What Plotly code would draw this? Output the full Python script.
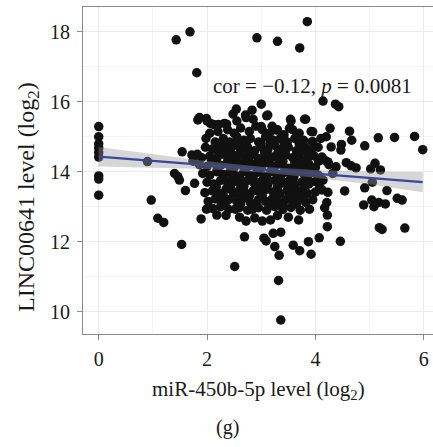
import plotly.graph_objects as go

# ---- data ----
# isolated / outer points: (miR-450b-5p, LINC00641)
col0_x = [0, 0, 0, 0, 0, 0, 0, 0, 0]
col0_y = [15.29, 15.0, 14.8, 14.68, 14.55, 14.42, 13.88, 13.79, 13.33]

left_pts = [(0.90, 14.29), (0.97, 13.19), (1.09, 12.67), (1.2, 12.55), (1.53, 11.92),
            (1.40, 13.95), (1.46, 13.86), (1.49, 13.76), (1.6, 13.46), (1.77, 13.67),
            (1.54, 14.57), (1.72, 14.48), (1.82, 14.5), (1.74, 14.3), (1.89, 12.65)]

top_pts = [(3.85, 18.29), (1.685, 18.0), (1.43, 17.77), (2.92, 17.83), (3.30, 17.73),
           (3.71, 17.54), (1.81, 16.83), (4.14, 16.02), (4.37, 15.93), (4.43, 15.86),
           (3.0, 15.93), (2.54, 15.79), (2.83, 15.76), (2.71, 15.62), (3.12, 15.62),
           (1.83, 15.48), (1.99, 15.52), (2.06, 15.38), (2.21, 15.35), (2.36, 15.36),
           (3.0, 15.29), (3.28, 15.19), (3.4, 15.05), (3.52, 15.24), (3.54, 15.5),
           (3.82, 15.5), (3.95, 15.14), (3.94, 14.86)]

bottom_pts = [(2.51, 11.29), (3.32, 10.89), (3.36, 9.76), (2.69, 12.14), (3.05, 12.1),
              (3.09, 12.02), (3.22, 12.24), (3.36, 12.27), (3.33, 11.61), (3.25, 11.86),
              (3.59, 11.9), (3.71, 11.74), (3.87, 12.0), (3.92, 11.64), (4.07, 12.11),
              (4.46, 12.01), (4.22, 12.43), (4.22, 12.76), (3.02, 12.59), (3.17, 12.62),
              (2.72, 12.59), (3.69, 12.62), (2.18, 12.76), (1.99, 12.93), (2.52, 12.93),
              (2.84, 12.93), (3.89, 12.93)]

right_pts = [(5.98, 14.63), (5.83, 15.01), (5.46, 14.98), (5.16, 14.97), (4.91, 14.74),
             (4.63, 15.16), (4.67, 14.9), (4.27, 15.24), (4.48, 14.78), (4.47, 14.62),
             (5.10, 14.24), (5.02, 14.08), (5.2, 14.05), (4.57, 14.26), (4.66, 14.17),
             (4.75, 14.11), (4.38, 14.14), (4.91, 13.54), (5.05, 13.7), (5.32, 13.46),
             (4.54, 13.45), (4.89, 13.05), (5.04, 13.19), (5.08, 13.0), (5.17, 13.12),
             (5.29, 13.08), (5.51, 13.24), (5.6, 13.19), (5.18, 12.4), (5.23, 12.35),
             (5.65, 12.39), (4.23, 13.41), (4.21, 13.12), (4.17, 12.97), (4.14, 13.76),
             (4.32, 13.95), (4.17, 14.33), (4.23, 14.28), (4.29, 14.71), (4.2, 15.0)]

# dense central cloud
cloud_pts = [
    (1.86, 15.55), (2.0, 15.45), (2.12, 15.35), (2.32, 15.38), (2.48, 15.65), (2.55, 15.45),
    (2.72, 15.55), (2.85, 15.5), (3.1, 15.6), (3.2, 15.3), (3.55, 15.45), (3.8, 15.5),
    (2.05, 15.1), (2.2, 15.15), (2.38, 15.2), (2.5, 15.1), (2.62, 15.25), (2.78, 15.15),
    (2.9, 15.3), (3.02, 15.2), (3.15, 15.1), (3.3, 15.2), (3.42, 15.05), (3.58, 15.2),
    (3.7, 15.1), (3.92, 15.15),
    (1.98, 14.95), (2.15, 14.85), (2.3, 14.95), (2.42, 14.85), (2.55, 15.0), (2.68, 14.9),
    (2.8, 14.95), (2.95, 14.85), (3.08, 15.0), (3.22, 14.9), (3.35, 14.95), (3.48, 14.85),
    (3.62, 14.95), (3.78, 14.9), (3.95, 14.85), (4.1, 14.95),
    (1.97, 14.7), (2.1, 14.65), (2.25, 14.72), (2.38, 14.62), (2.5, 14.75), (2.62, 14.65),
    (2.75, 14.7), (2.88, 14.6), (3.0, 14.72), (3.12, 14.62), (3.25, 14.75), (3.38, 14.65),
    (3.5, 14.7), (3.65, 14.6), (3.8, 14.72), (3.92, 14.62), (4.05, 14.7),
    (1.9, 14.4), (2.05, 14.45), (2.18, 14.38), (2.3, 14.5), (2.45, 14.42), (2.58, 14.5),
    (2.7, 14.4), (2.82, 14.48), (2.95, 14.38), (3.08, 14.5), (3.2, 14.42), (3.32, 14.35),
    (3.45, 14.48), (3.58, 14.4), (3.7, 14.5), (3.85, 14.38), (3.98, 14.45), (4.12, 14.42),
    (1.86, 14.2), (2.0, 14.15), (2.12, 14.25), (2.25, 14.18), (2.38, 14.22), (2.5, 14.12),
    (2.62, 14.25), (2.75, 14.15), (2.88, 14.22), (3.0, 14.12), (3.12, 14.25), (3.25, 14.15),
    (3.38, 14.2), (3.5, 14.1), (3.62, 14.25), (3.75, 14.15), (3.88, 14.22), (4.0, 14.12),
    (4.25, 14.2),
    (1.92, 13.95), (2.05, 13.9), (2.18, 14.0), (2.3, 13.92), (2.42, 13.98), (2.55, 13.88),
    (2.68, 14.0), (2.8, 13.9), (2.92, 13.98), (3.05, 13.88), (3.18, 14.0), (3.3, 13.92),
    (3.42, 13.98), (3.55, 13.88), (3.68, 14.0), (3.8, 13.9), (3.93, 13.98), (4.05, 13.9),
    (2.0, 13.7), (2.12, 13.65), (2.25, 13.75), (2.38, 13.68), (2.5, 13.72), (2.62, 13.62),
    (2.75, 13.75), (2.88, 13.65), (3.0, 13.72), (3.12, 13.62), (3.25, 13.75), (3.38, 13.68),
    (3.5, 13.72), (3.62, 13.62), (3.75, 13.7), (3.88, 13.65), (4.0, 13.72),
    (1.96, 13.4), (2.1, 13.45), (2.22, 13.38), (2.35, 13.5), (2.48, 13.4), (2.6, 13.48),
    (2.72, 13.38), (2.85, 13.45), (2.98, 13.4), (3.1, 13.5), (3.22, 13.42), (3.35, 13.38),
    (3.48, 13.48), (3.6, 13.4), (3.72, 13.45), (3.85, 13.38), (4.0, 13.42), (4.12, 13.48),
    (2.02, 13.15), (2.15, 13.22), (2.28, 13.12), (2.4, 13.2), (2.55, 13.15), (2.68, 13.25),
    (2.8, 13.12), (2.95, 13.2), (3.08, 13.15), (3.2, 13.22), (3.32, 13.12), (3.45, 13.2),
    (3.58, 13.15), (3.7, 13.25), (3.82, 13.12), (3.95, 13.2),
    (2.1, 12.95), (2.25, 13.0), (2.4, 12.92), (2.6, 12.98), (2.75, 12.9), (2.95, 12.97),
    (3.1, 12.9), (3.25, 13.0), (3.4, 12.92), (3.55, 12.98), (3.72, 12.9),
    (2.35, 12.75), (2.6, 12.7), (2.88, 12.68), (3.3, 12.75), (3.5, 12.7),
]

# extra points filling the gaps of the dense core
core_pts = [
    (2.32, 14.82), (2.58, 14.85), (2.72, 14.8), (2.99, 14.83), (3.16, 14.8), (3.42, 14.82), (3.7, 14.8),
    (2.2, 14.58), (2.44, 14.55), (2.68, 14.57), (2.82, 14.55), (3.06, 14.57), (3.31, 14.55),
    (3.44, 14.58), (3.72, 14.56), (3.86, 14.55),
    (2.08, 14.32), (2.38, 14.3), (2.52, 14.33), (2.77, 14.3), (3.02, 14.32), (3.14, 14.3),
    (3.4, 14.3), (3.66, 14.32), (3.78, 14.3), (4.06, 14.3),
    (2.19, 14.08), (2.44, 14.06), (2.7, 14.08), (2.95, 14.06), (3.2, 14.07), (3.45, 14.06),
    (3.58, 14.08), (3.82, 14.06),
    (2.3, 13.82), (2.47, 13.8), (2.6, 13.83), (2.85, 13.8), (3.1, 13.82), (3.36, 13.8),
    (3.6, 13.83), (3.86, 13.8),
    (2.17, 13.57), (2.43, 13.56), (2.68, 13.58), (2.93, 13.56), (3.05, 13.58), (3.3, 13.56),
    (3.55, 13.57), (3.8, 13.56), (4.08, 13.57),
    (2.3, 13.3), (2.55, 13.32), (2.78, 13.3), (3.02, 13.32), (3.28, 13.3), (3.52, 13.32), (3.78, 13.3),
    (2.33, 13.06), (2.62, 13.08), (2.88, 13.05), (3.15, 13.07), (3.4, 13.05), (3.65, 13.07),
]

# fitted regression line with confidence band
fit_x = [0, 1, 2, 3, 4, 5, 5.98]
fit_y = [14.43, 14.31, 14.19, 14.06, 13.94, 13.82, 13.70]
band_upper = [14.71, 14.50, 14.30, 14.14, 14.05, 14.00, 13.99]
band_lower = [14.15, 14.12, 14.08, 13.98, 13.83, 13.64, 13.41]

x_ticks = [0, 2, 4, 6]
y_ticks = [10, 12, 14, 16, 18]

# ---- assemble ----
all_pts = left_pts + top_pts + bottom_pts + right_pts + cloud_pts + core_pts
mir_x = col0_x + [p[0] for p in all_pts]
linc_y = col0_y + [p[1] for p in all_pts]

SERIF = "Liberation Serif, Times New Roman, serif"
TXT = "#1a1a1a"

fig = go.Figure()
fig.add_trace(go.Scatter(x=mir_x, y=linc_y, mode="markers",
                         marker=dict(color="#111111", size=9.5, line=dict(width=0)),
                         showlegend=False, hoverinfo="skip"))
fig.add_trace(go.Scatter(x=fit_x, y=band_upper, mode="lines", line=dict(width=0),
                         showlegend=False, hoverinfo="skip"))
fig.add_trace(go.Scatter(x=fit_x, y=band_lower, mode="lines", line=dict(width=0),
                         fill="tonexty", fillcolor="rgba(153,153,153,0.4)",
                         showlegend=False, hoverinfo="skip"))
fig.add_trace(go.Scatter(x=fit_x, y=fit_y, mode="lines",
                         line=dict(color="#3a469e", width=2.2),
                         showlegend=False, hoverinfo="skip"))

PW, PH, L, T = 350, 327, 83, 7

def px(xp):
    return (xp - L) / PW

def py(yp):
    return (T + PH - yp) / PH

fig.add_annotation(x=3.94, y=16.45, xref="x", yref="y", showarrow=False,
                   text="cor = \u22120.12, <i>p</i> = 0.0081",
                   font=dict(family=SERIF, size=21, color=TXT))
fig.add_annotation(x=px(258), y=py(390), xref="paper", yref="paper", showarrow=False,
                   xanchor="center", yanchor="middle",
                   text="miR-450b-5p level (log<sub>2</sub>)",
                   font=dict(family=SERIF, size=21, color=TXT))
fig.add_annotation(x=px(28), y=py(197), xref="paper", yref="paper", showarrow=False,
                   xanchor="center", yanchor="middle", textangle=-90,
                   text="LINC00641 level (log<sub>2</sub>)",
                   font=dict(family=SERIF, size=24, color=TXT))
fig.add_annotation(x=px(227), y=py(427), xref="paper", yref="paper", showarrow=False,
                   xanchor="center", yanchor="middle",
                   text="(g)", font=dict(family=SERIF, size=20, color=TXT))

axis_common = dict(showline=True, linecolor="#8a8a8a", linewidth=1, mirror=True,
                   ticks="outside", ticklen=5, tickcolor="#8a8a8a", tickwidth=1,
                   showgrid=True, gridcolor="#ebebeb", gridwidth=1, zeroline=False,
                   automargin=False,
                   tickfont=dict(family=SERIF, size=20, color=TXT))

fig.update_xaxes(range=[-0.29, 6.17], tickvals=x_ticks, ticklabelstandoff=2,
                 minor=dict(dtick=1, tick0=0, showgrid=True, gridcolor="#f4f4f4", ticks=""),
                 **axis_common)
fig.update_yaxes(range=[9.36, 18.71], tickvals=y_ticks, ticklabelstandoff=3,
                 minor=dict(dtick=1, tick0=0, showgrid=True, gridcolor="#f4f4f4", ticks=""),
                 **axis_common)

fig.update_layout(width=433, height=447, margin=dict(l=L, r=433 - L - PW, t=T, b=447 - T - PH),
                  plot_bgcolor="white", paper_bgcolor="white", showlegend=False)

fig.write_html("out.html", config={"displayModeBar": False},
               post_script="document.body.style.margin='0';")
